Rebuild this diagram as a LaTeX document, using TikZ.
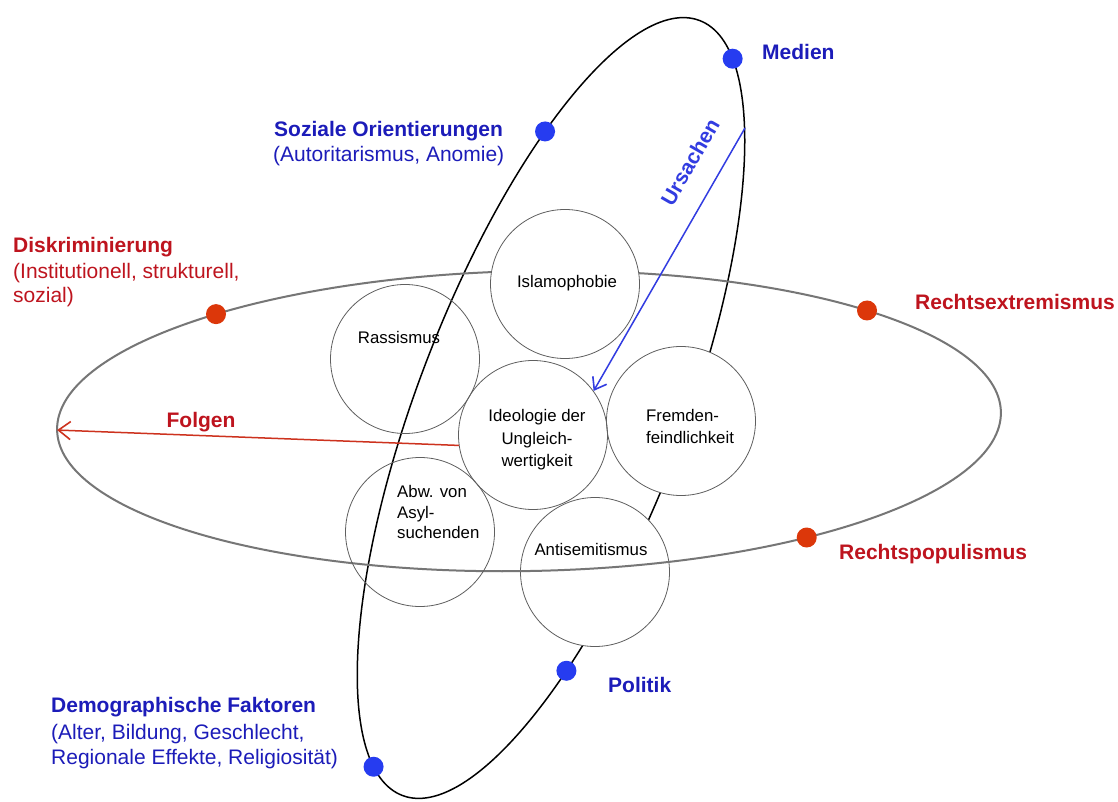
\documentclass[tikz,border=0pt]{standalone}
\usepackage{fontspec}
\setmainfont{Liberation Sans}
\usetikzlibrary{arrows.meta}
\definecolor{lblue}{RGB}{28,28,185}
\definecolor{dblue}{RGB}{38,60,240}
\definecolor{ablue}{RGB}{50,60,225}
\definecolor{lred}{RGB}{190,20,30}
\definecolor{dred}{RGB}{220,55,10}
\definecolor{ared}{RGB}{205,50,30}
\definecolor{cgray}{RGB}{95,95,95}
\definecolor{egray}{RGB}{118,118,118}
\begin{document}
\begin{tikzpicture}[x=1pt,y=-1pt,
  lab/.style={inner sep=0pt, anchor=base west, font=\fontsize{21}{25}\selectfont},
  labb/.style={inner sep=0pt, anchor=base west, font=\fontsize{21}{25}\selectfont\bfseries},
  ctext/.style={inner sep=0pt, font=\fontsize{16.8}{21}\selectfont, text=black},
  ball/.style={circle, inner sep=0pt, minimum size=20pt},
  bubble/.style={circle, draw=cgray, line width=0.8pt, inner sep=0pt, minimum size=149pt},
]
\useasboundingbox (0,0) rectangle (1118,802);
\fill[white] (0,0) rectangle (1118,802);

% vertical ellipse
\begin{scope}[shift={(551,408)}, rotate=69]
  \draw[black, line width=1.5pt] (0,0) ellipse [x radius=415, y radius=133];
  \coordinate (vmed) at ({415*cos(19.5)},{133*sin(19.5)});
  \coordinate (vsoz) at ({415*cos(-51.9)},{133*sin(-51.9)});
  \coordinate (vpol) at ({415*cos(125.3)},{133*sin(125.3)});
  \coordinate (vdem) at ({415*cos(196.2)},{133*sin(196.2)});
\end{scope}

% bubbles covering the vertical ellipse
\node[bubble, fill=white] (fre) at (681,421) {};
\node[bubble, fill=white] (ant) at (595,572) {};

% horizontal ellipse
\begin{scope}[shift={(529,421)}, rotate=1.1]
  \draw[egray, line width=2pt] (0,0) ellipse [x radius=472, y radius=150];
  \coordinate (hleft) at (-472,0);
  \coordinate (hdis) at ({472*cos(228.8)},{150*sin(228.8)});
  \coordinate (hrex) at ({472*cos(-43.9)},{150*sin(-43.9)});
  \coordinate (hpop) at ({472*cos(54.3)},{150*sin(54.3)});
\end{scope}

\node[bubble, fill=white] (isl) at (565,284) {};
\node[bubble] (ras) at (405,359) {};
\node[bubble] (abw) at (420,532) {};
\node[bubble] (ide) at (533,435) {};

% arrows
\coordinate (ustart) at (745,128);
\draw[ared, line width=1.5pt, -{Straight Barb[length=12pt, width=18pt, line width=1.6pt]}] (ide.188) -- (hleft);
\draw[ablue, line width=1.5pt, -{Straight Barb[length=11pt, width=16pt, line width=1.6pt]}] (ustart) -- (ide.36);

% dots
\node[ball, fill=dblue] (dmed) at (vmed) {};
\node[ball, fill=dblue] (dsoz) at (vsoz) {};
\node[ball, fill=dblue] (dpol) at (vpol) {};
\node[ball, fill=dblue] (ddem) at (vdem) {};
\node[ball, fill=dred] (ddis) at (hdis) {};
\node[ball, fill=dred] (drex) at (hrex) {};
\node[ball, fill=dred] (dpop) at (hpop) {};

% circle texts
\node[ctext, anchor=base] (tisl) at (567,287) {Islamophobie};
\node[ctext, anchor=base] (tras) at (399,343) {Rassismus};
\node[ctext, anchor=base] (tide1) at (537,421) {Ideologie der};
\node[ctext, anchor=base] (tide2) at (537,444) {Ungleich-};
\node[ctext, anchor=base] (tide3) at (537,466) {wertigkeit};
\node[ctext, anchor=base west] (tfre1) at (646,421) {Fremden-};
\node[ctext, anchor=base west] (tfre2) at (646,443) {feindlichkeit};
\node[ctext, anchor=base west] (tabw1) at (397,497) {Abw. von};
\node[ctext, anchor=base west] (tabw2) at (397,518) {Asyl-};
\node[ctext, anchor=base west] (tabw3) at (397,538) {suchenden};
\node[ctext, anchor=base] (tant) at (591,555) {Antisemitismus};

% labels
\node[labb, text=lblue] (soz1) at (274,137) {Soziale Orientierungen};
\node[lab, text=lblue] (soz2) at (273,162) {(Autoritarismus, Anomie)};
\node[labb, text=lblue] (med) at (762,60) {Medien};
\node[labb, text=lred] (dis1) at (13,253) {Diskriminierung};
\node[lab, text=lred] (dis2) at (13,278) {(Institutionell, strukturell,};
\node[lab, text=lred] (dis3) at (13,302) {sozial)};
\node[labb, text=lred] (rex) at (915,309) {Rechtsextremismus};
\node[labb, text=lred] (rpop) at (839,559) {Rechtspopulismus};
\node[labb, text=lblue] (pol) at (608,692) {Politik};
\node[labb, text=lblue] (dem1) at (51,712) {Demographische Faktoren};
\node[lab, text=lblue] (dem2) at (51,739) {(Alter, Bildung, Geschlecht,};
\node[lab, text=lblue] (dem3) at (51,764) {Regionale Effekte, Religiosität)};
\node[labb, text=lred, anchor=base] (folgen) at (201,427) {Folgen};
\node[inner sep=0pt, font=\fontsize{21}{25}\selectfont\bfseries, text=ablue, rotate=60] (urs) at (690,162) {Ursachen};
\end{tikzpicture}
\end{document}
